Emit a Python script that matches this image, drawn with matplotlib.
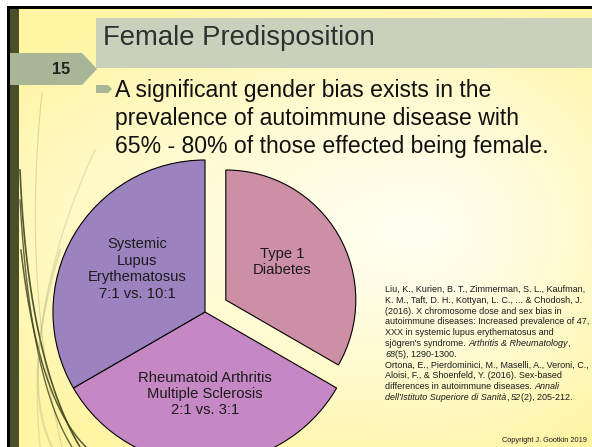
import numpy as np
import matplotlib.pyplot as plt
from matplotlib.patches import Rectangle, Polygon

plt.rcParams['font.family'] = ['Liberation Sans', 'DejaVu Sans']

W, H = 592, 447

slide_num = "15"
title = "Female Predisposition"
bullet_lines = ["A significant gender bias exists in the",
                "prevalence of autoimmune disease with",
                "65% - 80% of those effected being female."]

# three equal slices: diabetes, RA/MS, lupus
slice_labels = ["Type 1\nDiabetes",
                "Rheumatoid Arthritis\nMultiple Sclerosis\n2:1 vs. 3:1",
                "Systemic\nLupus\nErythematosus\n7:1 vs. 10:1"]
slice_sizes = [1, 1, 1]
slice_colors = ['#CD8FA6', '#C688C5', '#9C83C0']
slice_explode = [0.158, 0, 0]   # fraction of radius

refs = [
    [("Liu, K., Kurien, B. T., Zimmerman, S. L., Kaufman,", 'normal')],
    [("K. M., Taft, D. H., Kottyan, L. C., ... & Chodosh, J.", 'normal')],
    [("(2016). X chromosome dose and sex bias in", 'normal')],
    [("autoimmune diseases: Increased prevalence of 47,", 'normal')],
    [("XXX in systemic lupus erythematosus and", 'normal')],
    [("sjögren's syndrome.", 'normal'), (" Arthritis & Rheumatology", 'italic'), (",", 'normal')],
    [("68", 'italic'), ("(5), 1290-1300.", 'normal')],
    [("Ortona, E., Pierdominici, M., Maselli, A., Veroni, C.,", 'normal')],
    [("Aloisi, F., & Shoenfeld, Y. (2016). Sex-based", 'normal')],
    [("differences in autoimmune diseases.", 'normal'), (" Annali", 'italic')],
    [("dell'Istituto Superiore di Sanità", 'italic'), (",", 'normal'), (" 52", 'italic'), ("(2), 205-212.", 'normal')],
]
copyright_txt = "Copyright J. Gootkin 2019"

fig = plt.figure(figsize=(W / 100, H / 100), dpi=100)
ax = fig.add_axes([0, 0, 1, 1])

# background gradient (pale centre, yellow edges)
yy, xx = np.mgrid[0:H, 0:W]
sx = np.where(xx > 420, 280.0, 520.0)
d = np.sqrt(((xx - 420) / sx) ** 2 + ((yy - 230) / 250.0) ** 2)
t = np.clip(d, 0, 1)[..., None] ** 1.3
c0 = np.array([1.0, 1.0, 0.95])
c1 = np.array([1.0, 0.962, 0.65])
img = c0 * (1 - t) + c1 * t
img[:, :7] = 1.0
img[:6, :] = 1.0
ax.imshow(img, extent=(0, W, 0, H), origin='upper', aspect='auto', zorder=0)

# frame: black edge + olive bar
ax.add_patch(Rectangle((7, 0), 3, H - 6, color='black', zorder=1, lw=0))
ax.add_patch(Rectangle((7, H - 9), W - 7, 3, color='black', zorder=1, lw=0))
ax.add_patch(Rectangle((10, 0), 9, H - 9, color='#4A4F28', zorder=1, lw=0))

# decorative swooshes on the left
def swoosh(p0, p1, p2, color, lw, alpha):
    s = np.linspace(0, 1, 60)[:, None]
    pts = (1 - s) ** 2 * np.array(p0) + 2 * (1 - s) * s * np.array(p1) + s ** 2 * np.array(p2)
    ax.plot(pts[:, 0], H - pts[:, 1], color=color, lw=lw, alpha=alpha, zorder=1.5)

swoosh((42, 93), (22, 280), (62, 447), '#8A8F60', 0.8, 0.3)
swoosh((95, 150), (25, 300), (40, 447), '#8A8F60', 1.0, 0.2)
swoosh((20, 170), (28, 360), (80, 447), '#3E4420', 1.2, 0.9)
swoosh((20, 200), (30, 380), (72, 447), '#3E4420', 1.0, 0.8)
swoosh((21, 250), (38, 400), (86, 447), '#3E4420', 1.1, 0.85)
swoosh((60, 250), (20, 380), (52, 447), '#A0A578', 1.5, 0.3)

# title bar and slide number tab
ax.add_patch(Rectangle((96, H - 68), W - 96, 50, color='#C9D1BD', zorder=2, lw=0))
ax.add_patch(Polygon([(10, H - 53), (82, H - 53), (97, H - 69), (82, H - 85), (10, H - 85)],
                     closed=True, color='#A9B597', zorder=2, lw=0))
ax.text(61, H - 70, slide_num, fontsize=11.7, fontweight='bold', color='#222222',
        ha='center', va='center', zorder=3)
ax.text(103, H - 45, title, fontsize=19.8, color='#303030', va='baseline', zorder=3)

# bullet
ax.add_patch(Polygon([(96, H - 85), (108, H - 85), (112, H - 89), (108, H - 93), (96, H - 93)],
                     closed=True, color='#A9B597', zorder=2, lw=0))
for i, line in enumerate(bullet_lines):
    ax.text(115, H - 97 - 28 * i, line, fontsize=16.6, color='#111111', va='baseline', zorder=3)

# pie (explode is in data units for a pie with a custom radius)
R = 152
wedges, texts = ax.pie(slice_sizes, colors=slice_colors, explode=[e * R for e in slice_explode],
                       labels=slice_labels, startangle=90, counterclock=False,
                       center=(205, H - 312), radius=R, labeldistance=0.54,
                       wedgeprops=dict(edgecolor='black', linewidth=0.8),
                       textprops=dict(ha='center', va='center', fontsize=10.6,
                                      color='#1a1a1a', linespacing=1.22))
for w in wedges:
    w.set_zorder(2)
r0 = 130
wedges[0].set_radius(r0)
cx, cy = wedges[0].center
ang = np.deg2rad(34)
texts[0].set_position((cx + 0.52 * r0 * np.cos(ang), cy + 0.52 * r0 * np.sin(ang)))
texts[2].set_position((137, H - 269))
for tx in texts:
    tx.set_zorder(3)

# references
fs_ref = 6.5
for i, parts in enumerate(refs):
    y = H - 292 - 10.8 * i
    prev = None
    prev_style = 'normal'
    for s, style in parts:
        off = 0
        if s.startswith(' '):
            off = 0.278 * fs_ref
            s = s[1:]
        if prev_style == 'italic':
            off -= 0.2
        if prev is None:
            prev = ax.text(385, y, s, fontsize=fs_ref, fontstyle=style, color='#1a1a1a',
                           va='baseline', zorder=3)
        else:
            prev = ax.annotate(s, xy=(1, 0), xycoords=prev, xytext=(off, 0),
                               textcoords='offset points', fontsize=fs_ref, fontstyle=style,
                               color='#1a1a1a', va='bottom', ha='left', zorder=3)
        prev_style = style

ax.text(587, H - 442, copyright_txt, fontsize=5.3, color='#1a1a1a', ha='right',
        va='baseline', zorder=3)

ax.set_xlim(0, W)
ax.set_ylim(0, H)
ax.set_aspect('auto')
ax.axis('off')

fig.savefig('out.png', dpi=100)
